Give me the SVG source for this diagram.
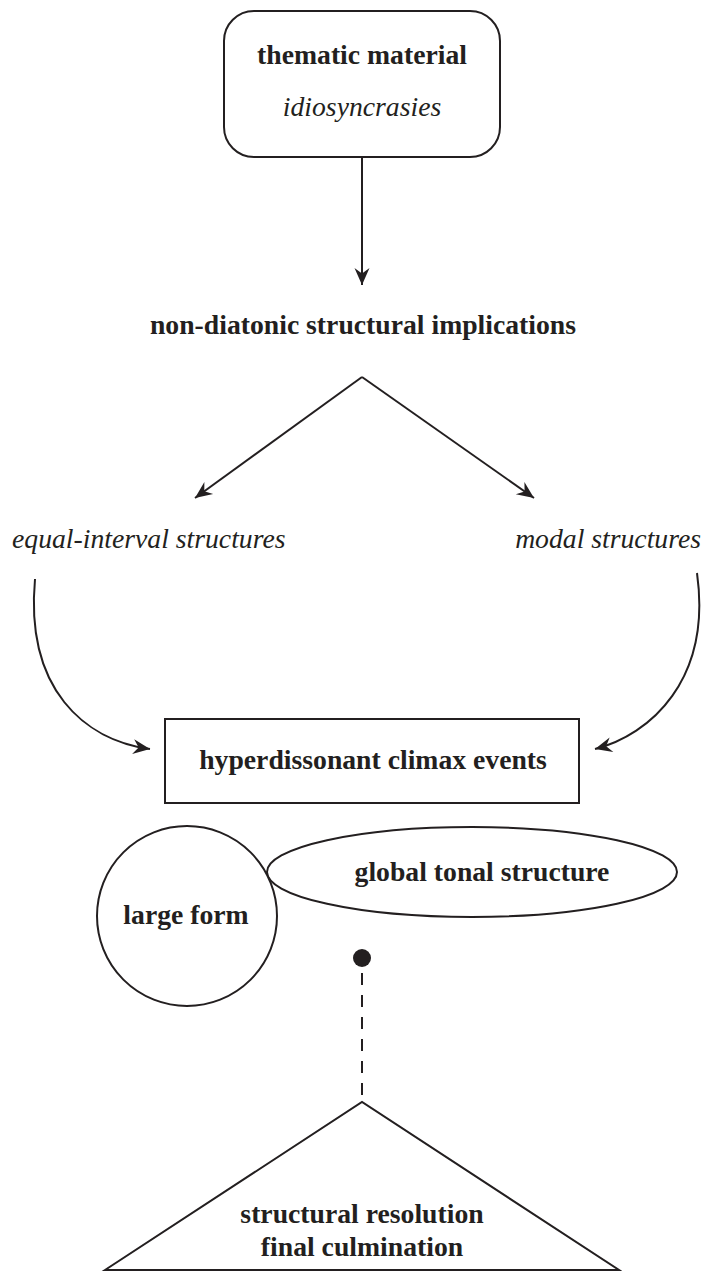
<svg xmlns="http://www.w3.org/2000/svg" width="705" height="1271" viewBox="0 0 705 1271">
  <style>
    .shape { fill: #ffffff; stroke: #231f20; stroke-width: 2; }
    .edge { fill: none; stroke: #231f20; stroke-width: 2; }
    .dash { fill: none; stroke: #231f20; stroke-width: 2; stroke-dasharray: 12 10; }
    text { font-family: "Liberation Serif", "Times New Roman", serif; font-size: 27.7px; fill: #231f20; }
    .b { font-weight: bold; }
    .i { font-style: italic; }
  </style>
  <defs>
    <marker id="arrow" markerUnits="userSpaceOnUse" markerWidth="20" markerHeight="18" viewBox="-18 -9 20 18" refX="0" refY="0" orient="auto">
      <path d="M0,0 L-17,-7.5 L-11.5,0 L-17,7.5 Z" fill="#231f20"/>
    </marker>
  </defs>

  <!-- connectors -->
  <g id="connectors">
    <line class="edge" x1="362" y1="157" x2="362" y2="285" marker-end="url(#arrow)"/>
    <line class="edge" x1="362" y1="377" x2="195" y2="498" marker-end="url(#arrow)"/>
    <line class="edge" x1="362" y1="377" x2="534" y2="498" marker-end="url(#arrow)"/>
    <path class="edge" d="M35,579 C25,690 85,740 150,749" marker-end="url(#arrow)"/>
    <path class="edge" d="M697,573 C712,680 650,735 595,749" marker-end="url(#arrow)"/>
    <line class="dash" x1="362" y1="973" x2="362" y2="1102"/>
    <circle cx="362" cy="958" r="9" fill="#231f20"/>
  </g>

  <!-- source node -->
  <g id="thematic-material">
    <rect class="shape" x="224" y="11" width="276" height="146" rx="30" ry="30"/>
    <text class="b" x="362" y="64" text-anchor="middle">thematic material</text>
    <text class="i" x="362" y="116" text-anchor="middle">idiosyncrasies</text>
  </g>

  <g id="implications">
    <text class="b" x="363" y="334" text-anchor="middle">non-diatonic structural implications</text>
  </g>

  <g id="equal-interval">
    <text class="i" x="12" y="548">equal-interval structures</text>
  </g>

  <g id="modal">
    <text class="i" x="701" y="548" text-anchor="end">modal structures</text>
  </g>

  <g id="climax-events">
    <rect class="shape" x="165" y="719" width="414" height="84"/>
    <text class="b" x="373" y="769" text-anchor="middle">hyperdissonant climax events</text>
  </g>

  <g id="global-tonal-structure">
    <ellipse class="shape" cx="472" cy="872" rx="205" ry="45"/>
    <text class="b" x="482" y="881" text-anchor="middle">global tonal structure</text>
  </g>

  <g id="large-form">
    <circle class="shape" cx="187" cy="916" r="90"/>
    <text class="b" x="186" y="924" text-anchor="middle">large form</text>
  </g>

  <g id="resolution">
    <path class="shape" d="M105,1270 L362,1102 L619,1270 Z"/>
    <text class="b" x="362" y="1223" text-anchor="middle">structural resolution</text>
    <text class="b" x="362" y="1256" text-anchor="middle">final culmination</text>
  </g>
</svg>
